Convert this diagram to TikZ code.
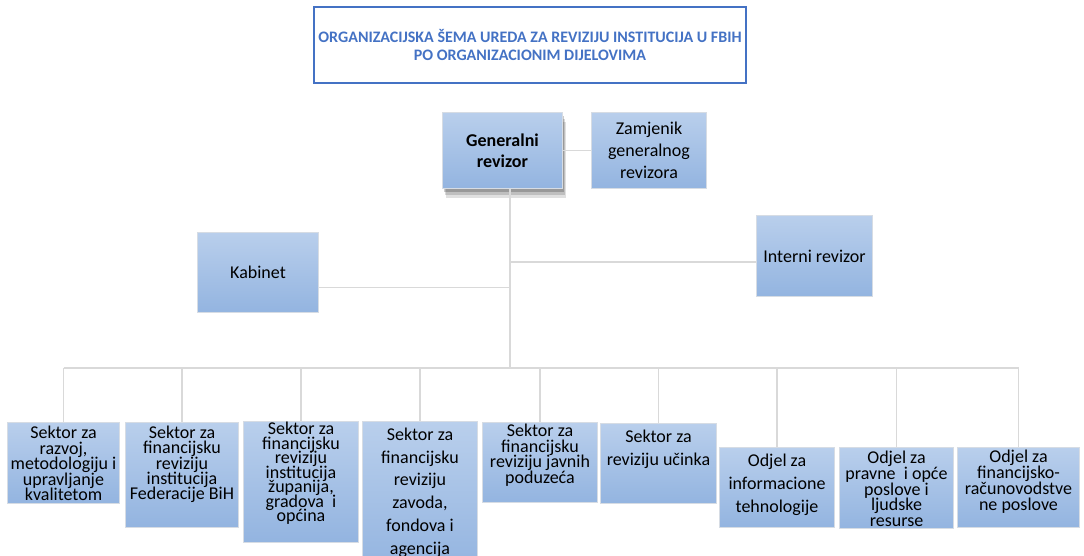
\documentclass[tikz,border=0pt]{standalone}
\usepackage{fontspec}
\setmainfont{Carlito}
\usetikzlibrary{shadows}

\definecolor{titleblue}{RGB}{68,114,196}
\definecolor{unittop}{RGB}{185,207,236}
\definecolor{unitbot}{RGB}{147,180,224}
\definecolor{unitline}{RGB}{214,220,228}
\definecolor{linkgray}{RGB}{217,217,217}

% box text: width, height, first baseline, lines
\newcommand{\boxtext}[4]{\parbox[c][#2][t]{#1}{\lineskiplimit=-50pt\relax\centering\rule{0pt}{#3}#4}}

\tikzset{
  unit/.style={draw=unitline, line width=1pt, top color=unittop, bottom color=unitbot, inner sep=0pt, anchor=north west},
  head/.style={unit, align=center, font=\fontsize{18}{22}\selectfont},
  sector/.style={unit, font=\fontsize{18}{#1}\selectfont},
  link/.style={draw=linkgray, line width=1.6pt},
  softshadow/.style={
    drop shadow={shadow xshift=3pt, shadow yshift=-9pt, opacity=0.12, fill=black},
    drop shadow={shadow xshift=2pt, shadow yshift=-6pt, opacity=0.15, fill=black},
    drop shadow={shadow xshift=1pt, shadow yshift=-3pt, opacity=0.2, fill=black}},
}

\begin{document}
\begin{tikzpicture}[x=1pt, y=-1pt]
    \path[use as bounding box, clip] (0,0) rectangle (1084,555);

    \node[draw=titleblue, line width=1.5pt, minimum width=432pt, minimum height=76pt, align=center, text=titleblue, font=\fontsize{16}{18}\selectfont\bfseries] (title) at (530,45) {ORGANIZACIJSKA ŠEMA UREDA ZA REVIZIJU INSTITUCIJA U FBIH\\PO ORGANIZACIONIM DIJELOVIMA};

    % vodstvo
    \node[head, minimum width=120pt, minimum height=76pt, font=\fontsize{18}{20.5}\selectfont\bfseries, softshadow] (gen) at (442,112) {Generalni\\revizor};
    \node[head, minimum width=115pt, minimum height=76pt] (zam) at (591,112) {Zamjenik\\generalnog\\revizora};
    \node[head, minimum width=121pt, minimum height=80pt] (kab) at (197,232) {Kabinet};
    \node[head, minimum width=116pt, minimum height=81pt] (int) at (756,215) {Interni revizor};

    % sektori i odjeli
    \node[sector=15.5] (s1) at (7,422) {\boxtext{112pt}{81pt}{16pt}{Sektor za\\razvoj,\\metodologiju i\\upravljanje\\kvalitetom}};
    \node[sector=15.3] (s2) at (125,422) {\boxtext{113pt}{105pt}{16pt}{Sektor za\\financijsku\\reviziju\\institucija\\Federacije BiH}};
    \node[sector=14.5] (s3) at (243,421) {\boxtext{115pt}{121pt}{13pt}{Sektor za\\financijsku\\reviziju\\institucija\\županija,\\gradova~ i\\općina}};
    \node[sector=22.7] (s4) at (362,421) {\boxtext{115pt}{150pt}{19pt}{Sektor za\\financijsku\\reviziju\\zavoda,\\fondova i\\agencija}};
    \node[sector=15.6] (s5) at (482,422) {\boxtext{115pt}{80pt}{14pt}{Sektor za\\financijsku\\reviziju javnih\\poduzeća}};
    \node[sector=22.5] (s6) at (600,423) {\boxtext{116pt}{80pt}{19pt}{Sektor za\\reviziju učinka}};
    \node[sector=23] (s7) at (719,447) {\boxtext{115pt}{80pt}{19pt}{Odjel za\\informacione\\tehnologije}};
    \node[sector=15.8] (s8) at (839,447) {\boxtext{114pt}{81pt}{16pt}{Odjel za\\pravne~ i opće\\poslove i\\ljudske\\resurse}};
    \node[sector=16] (s9) at (957,447) {\boxtext{122pt}{80pt}{15pt}{Odjel za\\financijsko-\\računovodstve\\ne poslove}};

    % veze
    \coordinate (bus) at (510,368);
    \draw[link] (gen) -- (zam);
    \draw[link] (gen.south -| bus) -- (bus);
    \draw[link] ([yshift=-15pt]kab.east) -- ([yshift=-15pt]kab.east -| bus);
    \draw[link] ([yshift=-6pt]int.west) -- ([yshift=-6pt]int.west -| bus);
    \draw[link] (s1.north |- bus) -- (s9.north |- bus);
    \foreach \s in {s1,s2,s3,s4,s5,s6,s7,s8,s9}
        \draw[link] (\s.north |- bus) -- (\s.north);

\end{tikzpicture}
\end{document}
